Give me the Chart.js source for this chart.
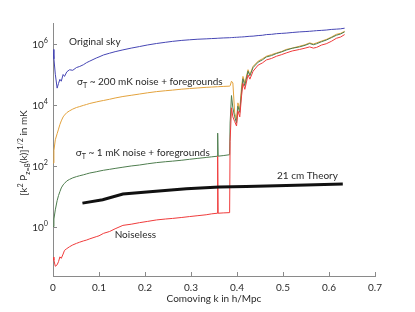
<!DOCTYPE html>
<html><head><meta charset="utf-8">
<script src="https://cdn.jsdelivr.net/npm/chart.js@4/dist/chart.umd.min.js"></script>
<style>html,body{margin:0;padding:0;background:#fff;overflow:hidden}</style>
</head><body>
<canvas id="c" width="415" height="312"></canvas>
<script>
// ---- data ----
const kValues = [0, 0.002, 0.005, 0.009, 0.012, 0.015, 0.018, 0.022, 0.025, 0.03,
 0.036, 0.043, 0.051, 0.058, 0.066, 0.073, 0.08, 0.094, 0.1, 0.11,
 0.123, 0.135, 0.152, 0.17, 0.188, 0.205, 0.225, 0.245, 0.26, 0.28,
 0.297, 0.315, 0.333, 0.345, 0.357, 0.358, 0.359, 0.37, 0.384, 0.385,
 0.388, 0.391, 0.395, 0.399, 0.402, 0.406, 0.41, 0.413, 0.417, 0.424,
 0.428, 0.435, 0.446, 0.455, 0.464, 0.475, 0.486, 0.497, 0.507, 0.52,
 0.536, 0.548, 0.558, 0.566, 0.573, 0.584, 0.594, 0.605, 0.616, 0.625,
 0.634];
const originalSky = [6.5e5, 3.2e5, 1.0e5, 3.5e4, 5.0e4, 6.8e4, 5.9e4, 9.8e4, 8.5e4, 1.2e5,
 1.4e5, 1.35e5, 1.66e5, 1.8e5, 2.05e5, 2.4e5, 2.7e5, 3.4e5, 3.7e5, 4.3e5,
 4.9e5, 5.5e5, 6.3e5, 7.2e5, 8.1e5, 9.1e5, 1.02e6, 1.12e6, 1.2e6, 1.29e6,
 1.35e6, 1.41e6, 1.45e6, 1.48e6, 1.51e6, 1.51e6, 1.52e6, 1.55e6, 1.58e6, 1.58e6,
 1.6e6, 1.6e6, 1.62e6, 1.63e6, 1.64e6, 1.66e6, 1.67e6, 1.68e6, 1.7e6, 1.74e6,
 1.76e6, 1.78e6, 1.86e6, 1.9e6, 2.0e6, 2.04e6, 2.14e6, 2.19e6, 2.24e6, 2.34e6,
 2.45e6, 2.51e6, 2.57e6, 2.63e6, 2.69e6, 2.75e6, 2.82e6, 2.95e6, 3.02e6, 3.09e6,
 3.24e6];
const noise200mK = [123, 316, 708, 1120, 1580, 2240, 2950, 3980, 4570, 5500,
 6300, 7200, 8100, 8700, 9500, 1.02e4, 1.1e4, 1.23e4, 1.29e4, 1.38e4,
 1.51e4, 1.66e4, 1.86e4, 2.04e4, 2.24e4, 2.45e4, 2.69e4, 2.88e4, 3.02e4, 3.24e4,
 3.39e4, 3.55e4, 3.72e4, 3.8e4, 3.89e4, 3.9e4, 3.9e4, 3.98e4, 4.07e4, 4.17e4,
 5.9e4, 5.2e4, 5.4e3, 3.2e3, 1.15e4, 6.9e3, 4.1e4, 8.5e4, 5.2e4, 1.41e5,
 9.8e4, 1.82e5, 2.7e5, 3.2e5, 3.9e5, 4.4e5, 5.0e5, 5.6e5, 6.5e5, 7.2e5,
 8.3e5, 9.3e5, 1.07e6, 9.8e5, 1.07e6, 1.23e6, 1.38e6, 1.66e6, 2.04e6, 2.19e6,
 2.57e6];
const noise1mK = [1.0, 1.78, 3.55, 7.1, 10.5, 14.1, 18.6, 23.4, 26.3, 31.6,
 35.5, 39.8, 43.7, 46.8, 50.1, 53.7, 57.5, 63.1, 66.1, 70.8,
 75.9, 81.3, 89.1, 97.7, 105, 115, 126, 135, 141, 151,
 162, 174, 186, 195, 204, 1170, 205, 214, 229, 2500,
 2.0e4, 7900, 4000, 2500, 8900, 5600, 2.8e4, 7.1e4, 4.2e4, 1.26e5,
 8.9e4, 1.66e5, 2.5e5, 2.95e5, 3.7e5, 4.1e5, 4.8e5, 5.4e5, 6.2e5, 7.1e5,
 7.9e5, 8.9e5, 1.02e6, 9.3e5, 1.0e6, 1.17e6, 1.32e6, 1.58e6, 1.9e6, 2.09e6,
 2.45e6];
const noiseless = [0.1, 0.079, 0.05, 0.056, 0.071, 0.102, 0.091, 0.126, 0.166, 0.19,
 0.219, 0.251, 0.282, 0.309, 0.339, 0.363, 0.398, 0.468, 0.5, 0.603,
 0.692, 0.85, 1.1, 1.2, 1.35, 1.48, 1.66, 1.78, 1.86, 2.0,
 2.14, 2.29, 2.45, 2.63, 2.75, 204, 2.75, 2.82, 2.88, 630,
 7900, 4000, 2800, 2000, 6300, 4000, 2.0e4, 5.0e4, 3.2e4, 9.5e4,
 6.9e4, 1.26e5, 2.0e5, 2.34e5, 2.95e5, 3.3e5, 3.9e5, 4.4e5, 5.0e5, 5.8e5,
 6.5e5, 7.2e5, 7.9e5, 7.2e5, 7.6e5, 9.1e5, 1.0e6, 1.2e6, 1.51e6, 1.66e6,
 2.0e6];
const theoryK = [0.064, 0.108, 0.152, 0.217, 0.29, 0.362, 0.42, 0.486, 0.55, 0.63];
const theory21cm = [5.9, 7.6, 11.7, 14.1, 17.4, 20.0, 20.9, 21.9, 23.4, 25.1];
const xTicks = [0, 0.1, 0.2, 0.3, 0.4, 0.5, 0.6, 0.7];
const xTickLabels = ['0', '0.1', '0.2', '0.3', '0.4', '0.5', '0.6', '0.7'];
const yTicks = [1, 100, 1e4, 1e6];
const yTickExponents = ['0', '2', '4', '6'];

// ---- styling / layout ----
const FONT = 'Lato, "Open Sans", sans-serif';
const TEXT = '#2a2a2a';
const AXIS = '#8a8a8a';
const pts = (xs, ys) => xs.map((x, i) => ({x, y: ys[i]}));

const annotations = [
  {k: 0.0348, v: 1.16e6, parts: [{t: 'Original sky'}]},
  {k: 0.052, v: 5.9e4, parts: [{t: 'σ'}, {t: 'T', s: 'sub'}, {t: ' ~ 200 mK noise + foregrounds'}]},
  {k: 0.0493, v: 280, parts: [{t: 'σ'}, {t: 'T', s: 'sub'}, {t: ' ~ 1 mK noise + foregrounds'}]},
  {k: 0.487, v: 47.6, parts: [{t: '21 cm Theory'}]},
  {k: 0.134, v: 0.533, parts: [{t: 'Noiseless'}]}
];
const yTitleParts = [{t: '[k'}, {t: '2', s: 'sup'}, {t: ' P'}, {t: 'z=8', s: 'sub'}, {t: '(k)]'}, {t: '1/2', s: 'sup'}, {t: ' in mK'}];

function drawRich(ctx, x, y, parts, size, align) {
  let w = 0;
  parts.forEach(p => {
    ctx.font = (p.s ? size * 0.72 : size) + 'px ' + FONT;
    p._w = ctx.measureText(p.t).width; w += p._w;
  });
  let cx = align === 'center' ? x - w / 2 : align === 'right' ? x - w : x;
  ctx.textAlign = 'left'; ctx.textBaseline = 'alphabetic';
  parts.forEach(p => {
    ctx.font = (p.s ? size * 0.72 : size) + 'px ' + FONT;
    const dy = p.s === 'sub' ? size * 0.32 : p.s === 'sup' ? -size * 0.45 : 0;
    ctx.fillText(p.t, cx, y + dy);
    cx += p._w;
  });
}

const decor = {
  id: 'decor',
  afterDraw(chart) {
    const {ctx, chartArea: a} = chart;
    const x = chart.scales.x, y = chart.scales.y;
    ctx.save();
    ctx.strokeStyle = AXIS; ctx.lineWidth = 1;
    ctx.beginPath();
    xTicks.forEach(v => { const px = Math.round(x.getPixelForValue(v)) + 0.5; ctx.moveTo(px, a.bottom); ctx.lineTo(px, a.bottom - 4); });
    yTicks.forEach(v => { const py = Math.round(y.getPixelForValue(v)) + 0.5; ctx.moveTo(a.left, py); ctx.lineTo(a.left + 4, py); });
    ctx.stroke();
    ctx.fillStyle = TEXT;
    yTicks.forEach((v, i) => {
      const py = y.getPixelForValue(v);
      drawRich(ctx, a.left - 5, py + 4, [{t: '10'}, {t: yTickExponents[i], s: 'sup'}], 10, 'right');
    });
    annotations.forEach(n => {
      drawRich(ctx, x.getPixelForValue(n.k), y.getPixelForValue(n.v) + 3.5, n.parts, 10, 'left');
    });
    ctx.translate(27, 153);
    ctx.rotate(-Math.PI / 2);
    drawRich(ctx, 0, 0, yTitleParts, 10, 'center');
    ctx.restore();
  }
};

const line = (label, data, color, width) => ({
  label, data, borderColor: color, backgroundColor: color, borderWidth: width,
  pointRadius: 0, tension: 0, fill: false
});

new Chart(document.getElementById('c'), {
  type: 'line',
  data: {
    datasets: [
      line('21 cm Theory', pts(theoryK, theory21cm), '#111111', 3),
      line('Noiseless', pts(kValues, noiseless), '#ef3b3b', 1),
      line('σT ~ 1 mK noise + foregrounds', pts(kValues, noise1mK), '#4e7d4e', 1),
      line('σT ~ 200 mK noise + foregrounds', pts(kValues, noise200mK), '#e3a23c', 1),
      line('Original sky', pts(kValues, originalSky), '#4646b4', 1)
    ]
  },
  options: {
    responsive: false, animation: false, devicePixelRatio: 1,
    layout: {padding: {top: 23, right: 40, left: 0, bottom: 0}},
    plugins: {legend: {display: false}, tooltip: {enabled: false}},
    scales: {
      x: {
        type: 'linear', min: 0, max: 0.7,
        afterBuildTicks: s => { s.ticks = xTicks.map(v => ({value: v})); },
        afterFit: s => { s.height = 36; },
        grid: {display: false, drawTicks: false},
        border: {display: true, color: AXIS, width: 1},
        ticks: {color: TEXT, font: {family: FONT, size: 10}, padding: 6, maxRotation: 0,
          callback: (v, i) => xTickLabels[i]},
        title: {display: true, text: 'Comoving k in h/Mpc', color: TEXT,
          font: {family: FONT, size: 10}, padding: {top: 0, bottom: 7}}
      },
      y: {
        type: 'logarithmic', min: 0.024, max: 4.8e6,
        afterBuildTicks: s => { s.ticks = yTicks.map(v => ({value: v})); },
        afterFit: s => { s.width = 53; },
        grid: {display: false, drawTicks: false},
        border: {display: true, color: AXIS, width: 1},
        ticks: {display: false}
      }
    }
  },
  plugins: [decor]
});
</script>
</body></html>
